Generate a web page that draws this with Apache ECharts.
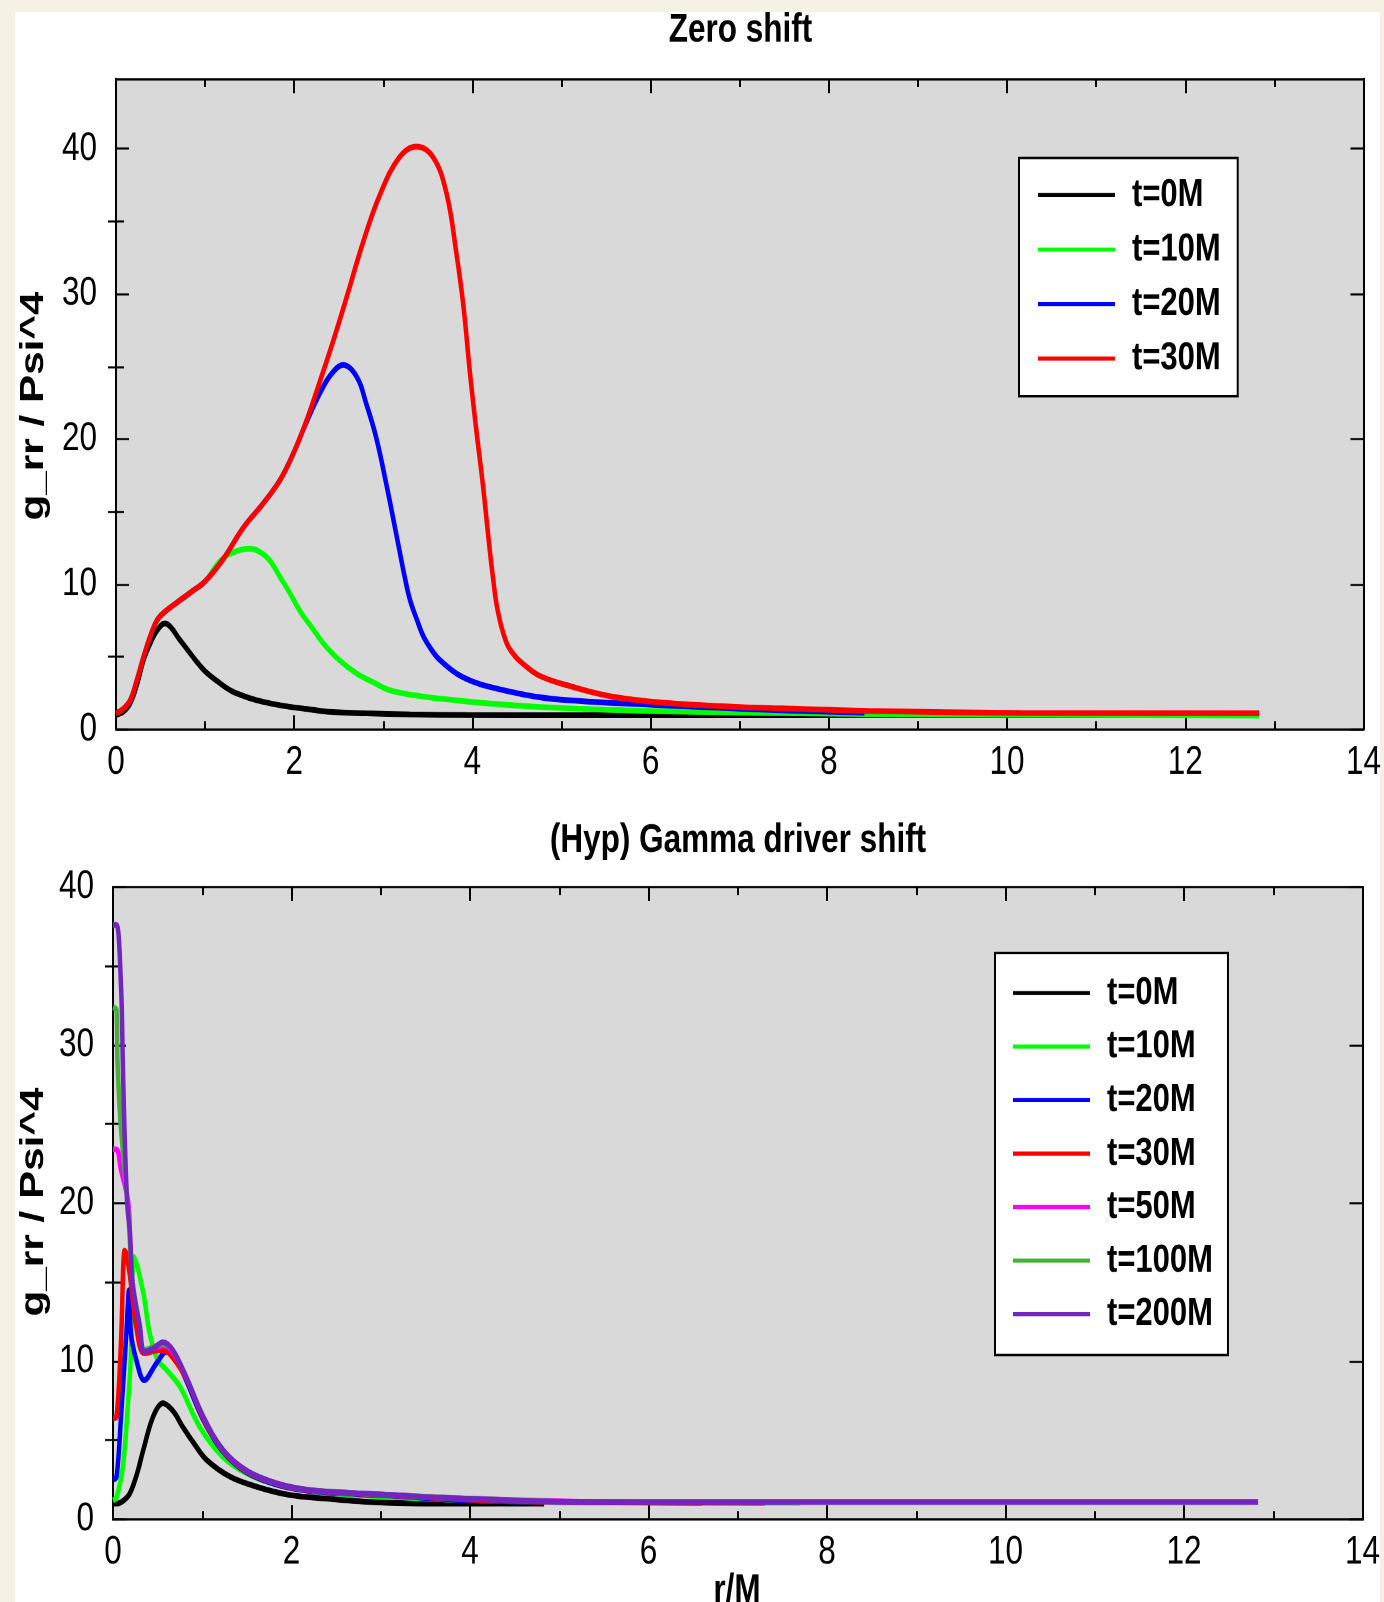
<!DOCTYPE html>
<html>
<head>
<meta charset="utf-8">
<script src="https://cdn.jsdelivr.net/npm/echarts@6/dist/echarts.min.js"></script>
<style>
  html, body { margin: 0; padding: 0; background: #f5f1e4; overflow: hidden; }
  #sheet { position: absolute; left: 15px; top: 12px; width: 1365px; height: 1590px; background: #ffffff; }
  /* the figure is laid out in a shorter box and stretched vertically (tall, narrow lettering) */
  #chart { position: absolute; left: 0; top: 0; width: 1384px; transform-origin: 0 0; }
</style>
</head>
<body>
<div id="sheet"></div>
<div id="chart"></div>
<script>
// ---- panel titles, axis titles, ticks ----
const topTitle = 'Zero shift';
const bottomTitle = '(Hyp) Gamma driver shift';
const yTitle = 'g_rr / Psi^4';
const xTitle = 'r/M';
const xTicks = [0, 2, 4, 6, 8, 10, 12, 14];
const topYTicks = [0, 10, 20, 30, 40];
const topYMinor = [5, 15, 25, 35];
const bottomYTicks = [0, 10, 20, 30, 40];
const bottomYMinor = [5, 15, 25, 35];

// ---- series names and colours ----
const zeroNames = ['t=0M', 't=10M', 't=20M', 't=30M'];
const gammaNames = ['t=0M', 't=10M', 't=20M', 't=30M', 't=50M', 't=100M', 't=200M'];
const lineColors = {
  't=0M': '#000000', 't=10M': '#00ff00', 't=20M': '#0000ff', 't=30M': '#ff0000',
  't=50M': '#ff00ff', 't=100M': '#45b035', 't=200M': '#7325c0'
};

// ---- zero shift: g_rr / Psi^4 versus r/M ----
const zero_t0 = [[0,1.0],[0.08,1.2],[0.16,1.8],[0.24,3.2],[0.31,4.8],[0.39,6.0],[0.46,6.8],[0.55,7.3],[0.62,7.0],[0.7,6.3],[0.8,5.5],[0.9,4.7],[1.0,4.0],[1.14,3.3],[1.28,2.7],[1.43,2.3],[1.58,2.0],[1.76,1.75],[1.95,1.55],[2.2,1.35],[2.4,1.2],[2.8,1.1],[3.3,1.03],[3.93,0.98],[5,0.97],[7,0.97],[9,0.97],[11.65,0.97]];
const zero_t10 = [[0,1.1],[0.08,1.4],[0.16,2.0],[0.24,3.5],[0.31,5.0],[0.39,6.5],[0.46,7.5],[0.53,8.0],[0.61,8.4],[0.72,8.9],[0.83,9.4],[1.0,10.2],[1.17,11.6],[1.32,12.2],[1.5,12.45],[1.62,12.2],[1.73,11.6],[1.84,10.5],[1.95,9.4],[2.06,8.2],[2.2,7.0],[2.33,5.9],[2.5,4.8],[2.7,3.85],[2.9,3.2],[3.07,2.7],[3.4,2.3],[3.82,2.0],[4.25,1.75],[4.72,1.55],[5.5,1.35],[6.5,1.2],[8,1.08],[10,1.0],[12.83,0.95]];
const zero_t20 = [[0,1.1],[0.08,1.4],[0.16,2.0],[0.24,3.5],[0.31,5.0],[0.39,6.5],[0.46,7.5],[0.53,8.0],[0.61,8.4],[0.72,8.9],[0.83,9.4],[1.0,10.2],[1.2,11.7],[1.43,13.9],[1.65,15.55],[1.84,17.16],[1.99,19.0],[2.14,21.2],[2.3,23.3],[2.42,24.5],[2.55,25.1],[2.7,24.3],[2.81,22.4],[2.92,20.1],[3.04,16.7],[3.15,13.3],[3.24,10.5],[3.3,8.9],[3.38,7.5],[3.45,6.4],[3.55,5.4],[3.63,4.8],[3.82,3.85],[4.0,3.3],[4.19,2.93],[4.72,2.24],[5.2,1.95],[5.8,1.75],[6.72,1.5],[7.5,1.3],[8.4,1.15]];
const zero_t30 = [[0,1.1],[0.08,1.4],[0.16,2.0],[0.24,3.5],[0.31,5.0],[0.39,6.5],[0.46,7.5],[0.53,8.0],[0.61,8.4],[0.72,8.9],[0.83,9.4],[1.0,10.2],[1.2,11.7],[1.43,13.9],[1.65,15.55],[1.84,17.16],[1.99,19.0],[2.14,21.3],[2.29,24.0],[2.44,26.8],[2.59,29.8],[2.77,33.5],[2.96,36.8],[3.18,39.4],[3.37,40.15],[3.56,39.4],[3.71,36.9],[3.82,32.8],[3.9,29.1],[3.97,24.7],[4.04,20.8],[4.12,16.7],[4.19,12.6],[4.23,10.5],[4.28,8.3],[4.38,6.0],[4.47,5.1],[4.57,4.5],[4.75,3.7],[5.11,2.95],[5.57,2.25],[6.15,1.83],[6.95,1.55],[7.7,1.4],[8.44,1.27],[10.15,1.13],[12.83,1.1]];

// ---- gamma driver shift: g_rr / Psi^4 versus r/M ----
const gamma_t0 = [[0,1.0],[0.04,1.0],[0.12,1.2],[0.19,1.65],[0.27,2.9],[0.34,4.4],[0.45,6.5],[0.56,7.34],[0.68,6.8],[0.78,5.86],[0.92,4.7],[1.05,3.75],[1.31,2.7],[1.61,2.06],[1.98,1.54],[2.35,1.33],[2.84,1.11],[3.5,1.0],[4.83,1.0]];
const gamma_t10 = [[0,1.2],[0.04,1.4],[0.11,3.3],[0.17,7.5],[0.2,10.3],[0.24,16.6],[0.34,14.3],[0.41,11.8],[0.5,10.1],[0.6,9.45],[0.75,8.4],[0.97,5.86],[1.23,3.96],[1.5,2.9],[1.83,2.2],[2.2,1.8],[2.7,1.55],[3.2,1.4],[4,1.2],[5,1.1],[7.7,1.05]];
const gamma_t20 = [[0,2.5],[0.04,2.7],[0.09,6.5],[0.15,11.8],[0.18,14.5],[0.2,11.8],[0.26,10.1],[0.35,8.8],[0.49,9.9],[0.6,10.6],[0.7,10.2],[0.82,8.8],[1.01,6.3],[1.23,4.3],[1.49,3.0],[1.83,2.2],[2.2,1.8],[2.73,1.6],[3.1,1.5],[4,1.2],[5,1.1],[6.6,1.05]];
const gamma_t30 = [[0,6.4],[0.04,6.5],[0.09,11.3],[0.13,17.0],[0.15,16.8],[0.19,15.4],[0.26,12.2],[0.35,10.5],[0.52,10.7],[0.63,10.5],[0.82,8.9],[1.01,6.4],[1.23,4.35],[1.49,3.05],[1.83,2.25],[2.2,1.83],[2.73,1.63],[3.1,1.52],[4,1.25],[5,1.1],[7.3,1.05]];
const gamma_t50 = [[0,23.4],[0.04,23.4],[0.09,22.1],[0.17,20.1],[0.19,18.1],[0.22,14.9],[0.3,12.2],[0.35,10.6],[0.45,10.8],[0.56,11.0],[0.67,10.6],[0.82,9.0],[1.01,6.5],[1.23,4.4],[1.49,3.1],[1.83,2.28],[2.2,1.85],[2.73,1.65],[3.1,1.54],[4,1.3],[5.3,1.1]];
const gamma_t100 = [[0,32.4],[0.04,32.2],[0.05,29.1],[0.08,25.5],[0.13,22.0],[0.17,19.5],[0.22,15.0],[0.3,12.3],[0.35,10.7],[0.45,10.9],[0.56,11.1],[0.67,10.7],[0.82,9.0],[1.01,6.5],[1.23,4.4],[1.49,3.1],[1.83,2.28],[2.2,1.85],[2.73,1.65],[3.1,1.54],[4,1.3],[5,1.1]];
const gamma_t200 = [[0,37.6],[0.04,37.6],[0.09,33.7],[0.11,28.9],[0.13,24.4],[0.16,19.9],[0.19,18.1],[0.22,14.9],[0.3,12.2],[0.35,10.6],[0.45,10.8],[0.56,11.2],[0.67,10.7],[0.82,9.0],[1.01,6.5],[1.23,4.4],[1.49,3.1],[1.83,2.28],[2.2,1.85],[2.73,1.65],[3.1,1.54],[3.5,1.4],[4,1.3],[4.9,1.12],[6,1.1],[12.83,1.1]];

const zeroData = [zero_t0, zero_t10, zero_t20, zero_t30];
const gammaData = [gamma_t0, gamma_t10, gamma_t20, gamma_t30, gamma_t50, gamma_t100, gamma_t200];

// ---- page geometry ----
const PAGE_H = 1602;
const STRETCH = 1.28;                       // vertical stretch of the whole figure
const py = y => y / STRETCH;                // page y -> layout y
const chartEl = document.getElementById('chart');
chartEl.style.height = (PAGE_H / STRETCH) + 'px';
chartEl.style.transform = 'scaleY(' + STRETCH + ')';

// ---- styling ----
const SANS = '"Liberation Sans", Arial, sans-serif';
const INK = '#000000';
const PANEL = '#d9d9d9';

const labelStyle = { color: INK, fontFamily: SANS, fontSize: 31.5 };

function xAxisPair(gridIndex) {
  const base = {
    type: 'value', gridIndex, min: 0, max: 14, interval: 2,
    axisLine: { show: true, onZero: false, lineStyle: { color: INK, width: 1.8 } },
    splitLine: { show: false },
    axisTick: { show: true, inside: true, length: 11, lineStyle: { color: INK, width: 2 } },
    minorTick: { show: true, splitNumber: 2, length: 6.3, lineStyle: { color: INK, width: 2 } },
    minorSplitLine: { show: false }
  };
  return [
    Object.assign({}, base, { position: 'bottom',
      axisLabel: Object.assign({ margin: 10, customValues: xTicks }, labelStyle) }),
    Object.assign({}, base, { position: 'top', axisLabel: { show: false } })
  ];
}

function yAxisMajor(gridIndex, position, max, ticks, withLabels) {
  return {
    type: 'value', gridIndex, position, min: 0, max, interval: 10,
    axisLine: { show: true, onZero: false, lineStyle: { color: INK, width: 2 } },
    splitLine: { show: false },
    axisTick: { show: true, inside: true, length: 13, customValues: ticks, lineStyle: { color: INK, width: 1.6 } },
    axisLabel: withLabels
      ? Object.assign({ margin: 19, customValues: ticks }, labelStyle)
      : { show: false }
  };
}

function yAxisMinor(gridIndex, position, max, ticks) {
  return {
    type: 'value', gridIndex, position, min: 0, max, interval: 10,
    axisLine: { show: false }, splitLine: { show: false }, axisLabel: { show: false },
    axisTick: { show: true, inside: true, length: 8, customValues: ticks, lineStyle: { color: INK, width: 1.6 } }
  };
}

const xAxes = [].concat(xAxisPair(0), xAxisPair(1));
const yAxes = [
  yAxisMajor(0, 'left', 44.8, topYTicks, true),
  yAxisMinor(0, 'left', 44.8, topYMinor),
  yAxisMajor(0, 'right', 44.8, topYTicks, false),
  yAxisMinor(0, 'right', 44.8, topYMinor),
  yAxisMajor(1, 'left', 40, bottomYTicks, true),
  yAxisMinor(1, 'left', 40, bottomYMinor),
  yAxisMajor(1, 'right', 40, bottomYTicks, false),
  yAxisMinor(1, 'right', 40, bottomYMinor)
];

function makeSeries(names, data, xIndex, yIndex, smoothness) {
  return names.map((name, i) => ({
    name, type: 'line', xAxisIndex: xIndex, yAxisIndex: yIndex,
    data: data[i], showSymbol: false, symbol: 'none', smooth: smoothness,
    color: lineColors[name],
    lineStyle: { color: lineColors[name], width: 4.5 },
    itemStyle: { color: lineColors[name] },
    z: 2 + i, animation: false
  }));
}

const series = [].concat(
  makeSeries(zeroNames, zeroData, 0, 0, 0.4),
  makeSeries(gammaNames, gammaData, 2, 4, 0.35)
);

const legendText = { color: INK, fontFamily: SANS, fontWeight: 'bold', fontSize: 31, lineHeight: 32, padding: [0, 0, 0, 12] };
const titleText = { color: INK, fontFamily: SANS, fontWeight: 'bold', fontSize: 31.5 };

const option = {
  animation: false,
  backgroundColor: 'transparent',
  title: [
    { text: topTitle, left: 740.5, top: py(12) - 1.5, padding: 0, textAlign: 'center', textStyle: titleText },
    { text: bottomTitle, left: 738, top: py(824) - 3, padding: 0, textAlign: 'center', textStyle: titleText }
  ],
  grid: [
    { left: 116, top: py(79), width: 1249, height: py(729.3) - py(79), show: true, backgroundColor: PANEL, borderWidth: 0 },
    { left: 113, top: py(887), width: 1249.5, height: py(1519.3) - py(887), show: true, backgroundColor: PANEL, borderWidth: 0 }
  ],
  legend: [
    { data: zeroNames, orient: 'vertical', left: 1019, top: py(158),
      icon: 'rect', itemWidth: 77, itemHeight: 3.2, itemGap: 10.6,
      padding: [12.9, 17, 13.3, 19], backgroundColor: '#ffffff', borderColor: INK, borderWidth: 2,
      selectedMode: false, textStyle: legendText },
    { data: gammaNames, orient: 'vertical', left: 995, top: py(953),
      icon: 'rect', itemWidth: 77, itemHeight: 3.2, itemGap: 9.8,
      padding: [15.3, 15, 16, 18], backgroundColor: '#ffffff', borderColor: INK, borderWidth: 2,
      selectedMode: false, textStyle: legendText }
  ],
  xAxis: xAxes,
  yAxis: yAxes,
  series,
  graphic: [
    { type: 'text', x: 34, y: py(406), rotation: Math.PI / 2,
      style: { text: yTitle, fill: INK, font: 'bold 33px ' + SANS, textAlign: 'center', textVerticalAlign: 'middle' } },
    { type: 'text', x: 34, y: py(1202), rotation: Math.PI / 2,
      style: { text: yTitle, fill: INK, font: 'bold 33px ' + SANS, textAlign: 'center', textVerticalAlign: 'middle' } },
    { type: 'text', x: 737, y: py(1573) - 2,
      style: { text: xTitle, fill: INK, font: 'bold 31.5px ' + SANS, textAlign: 'center', textVerticalAlign: 'top' } }
  ]
};

const chart = echarts.init(chartEl, null, { renderer: 'canvas', devicePixelRatio: 2 });
chart.setOption(option);
</script>
</body>
</html>
